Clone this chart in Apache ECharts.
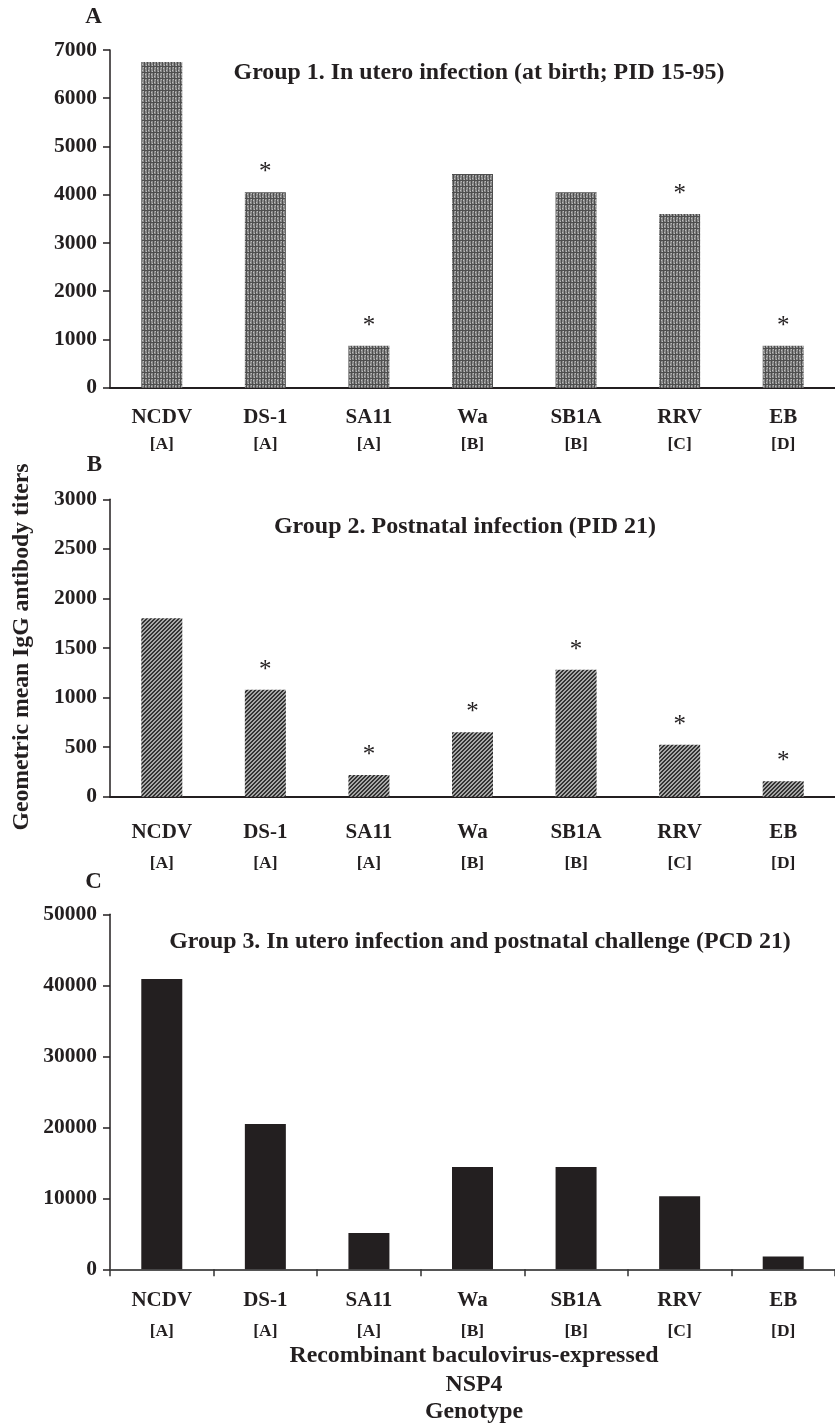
<!DOCTYPE html>
<html>
<head>
<meta charset="utf-8">
<script src="https://cdn.jsdelivr.net/npm/echarts@6/dist/echarts.min.js"></script>
<style>
html,body{margin:0;padding:0;background:#fff;}
#chart{width:835px;height:1428px;}
</style>
</head>
<body>
<div id="chart"></div>
<script>
// ---- data ----
const categories = ['NCDV', 'DS-1', 'SA11', 'Wa', 'SB1A', 'RRV', 'EB'];
const genotypes = ['[A]', '[A]', '[A]', '[B]', '[B]', '[C]', '[D]'];
const group1Values = [6750, 4050, 870, 4430, 4050, 3600, 870];
const group2Values = [1800, 1080, 220, 650, 1280, 525, 155];
const group3Values = [40900, 20480, 5100, 14400, 14400, 10300, 1800];
const group1Signif = [false, true, true, false, false, true, true];
const group2Signif = [false, true, true, true, true, true, true];
const group3Signif = [false, false, false, false, false, false, false];
const yAxisA = { max: 7000, interval: 1000 };
const yAxisB = { max: 3000, interval: 500 };
const yAxisC = { max: 50000, interval: 10000 };
const titleA = 'Group 1. In utero infection (at birth; PID 15-95)';
const titleB = 'Group 2. Postnatal infection (PID 21)';
const titleC = 'Group 3. In utero infection and postnatal challenge (PCD 21)';
const yName = 'Geometric mean IgG antibody titers';
const xNameLines = ['Recombinant baculovirus-expressed', 'NSP4', 'Genotype'];

// ---- style helpers ----
const FONT = '"Liberation Serif", "Times New Roman", serif';
const INK = '#231f20';

function makePatternA() {
  const c = document.createElement('canvas');
  c.width = 6; c.height = 6;
  const g = c.getContext('2d');
  g.fillStyle = '#8a8a8a'; g.fillRect(0, 0, 6, 6);
  g.fillStyle = '#4e4e4e';
  for (let i = 0; i < 6; i++) {
    g.fillRect(i, 0, 1, 1);
    g.fillRect(0, i, 1, 1);
    g.fillRect(3, i, 1, 1);
  }
  g.fillStyle = '#bdbdbd';
  g.fillRect(1, 2, 1, 1); g.fillRect(4, 4, 1, 1); g.fillRect(5, 1, 1, 1); g.fillRect(2, 5, 1, 1);
  return c;
}
function makePatternB() {
  const c = document.createElement('canvas');
  c.width = 4; c.height = 4;
  const g = c.getContext('2d');
  for (let x = 0; x < 4; x++) {
    for (let y = 0; y < 4; y++) {
      g.fillStyle = ((x + y) % 4 < 2) ? '#333333' : '#a8a8a8';
      g.fillRect(x, y, 1, 1);
    }
  }
  return c;
}

const chart = echarts.init(document.getElementById('chart'), null, { renderer: 'canvas' });

const grids = [
  { left: 110, top: 50, width: 730, height: 337.7 },
  { left: 110, top: 499.3, width: 730, height: 297.4 },
  { left: 110, top: 914.3, width: 730, height: 355 }
];

function xAxis(idx, margin, lh, ticks, lineColor) {
  return {
    type: 'category', gridIndex: idx, data: categories,
    axisLine: { lineStyle: { color: lineColor, width: 2 } },
    axisTick: { show: ticks, length: 7, lineStyle: { color: '#333', width: 1.5 } },
    axisLabel: {
      margin: margin, interval: 0,
      formatter: (v, i) => '{n|' + v + '}\n{g|' + genotypes[i] + '}',
      rich: {
        n: { fontFamily: FONT, fontWeight: 'bold', fontSize: 21, color: INK, lineHeight: lh },
        g: { fontFamily: FONT, fontWeight: 'bold', fontSize: 17.5, color: INK, lineHeight: lh }
      }
    }
  };
}
function yAxis(idx, cfg) {
  return {
    type: 'value', gridIndex: idx, min: 0, max: cfg.max, interval: cfg.interval,
    splitLine: { show: false },
    axisLine: { show: true, lineStyle: { color: INK, width: 1.5 } },
    axisTick: { show: true, length: 7, lineStyle: { color: INK, width: 1.5 } },
    axisLabel: {
      margin: 13, fontFamily: FONT, fontWeight: 'bold', fontSize: 21.5, color: INK,
      formatter: (v) => String(v)
    }
  };
}
function barData(values, signif) {
  return values.map((v, i) => ({
    value: v,
    label: { show: signif[i] }
  }));
}
function barSeries(idx, values, signif, color) {
  return {
    type: 'bar', xAxisIndex: idx, yAxisIndex: idx, barWidth: 41,
    data: barData(values, signif),
    itemStyle: { color: color },
    label: {
      show: false, position: 'top', distance: 7, formatter: '*',
      fontFamily: FONT, fontSize: 25, color: INK
    },
    emphasis: { disabled: true }, silent: true
  };
}

function text(str, x, y, size, extra) {
  return Object.assign({
    type: 'text', x: x, y: y, silent: true,
    style: {
      text: str, font: 'bold ' + size + 'px ' + FONT, fill: INK,
      textAlign: 'center', textVerticalAlign: 'middle'
    }
  }, extra || {});
}

const graphics = [
  text('A', 93.5, 17.5, 23),
  text('B', 94.5, 465, 23),
  text('C', 93.5, 882.5, 23),
  text(titleA, 479, 73, 23.9),
  text(titleB, 465, 527, 24),
  text(titleC, 480, 942, 23.9),
  text(yName, 21.5, 647, 23.7, { rotation: Math.PI / 2 }),
  text(xNameLines[0], 474, 1356, 23.9),
  text(xNameLines[1], 474, 1385, 23.9),
  text(xNameLines[2], 474, 1412, 23.9)
];

chart.setOption({
  animation: false,
  backgroundColor: '#ffffff',
  grid: grids,
  xAxis: [
    xAxis(0, 16, 27, false, INK),
    xAxis(1, 20, 31, false, INK),
    xAxis(2, 16, 31, true, '#555555')
  ],
  yAxis: [yAxis(0, yAxisA), yAxis(1, yAxisB), yAxis(2, yAxisC)],
  series: [
    barSeries(0, group1Values, group1Signif, { image: makePatternA(), repeat: 'repeat' }),
    barSeries(1, group2Values, group2Signif, { image: makePatternB(), repeat: 'repeat' }),
    barSeries(2, group3Values, group3Signif, '#231f20')
  ],
  graphic: graphics
});
</script>
</body>
</html>
